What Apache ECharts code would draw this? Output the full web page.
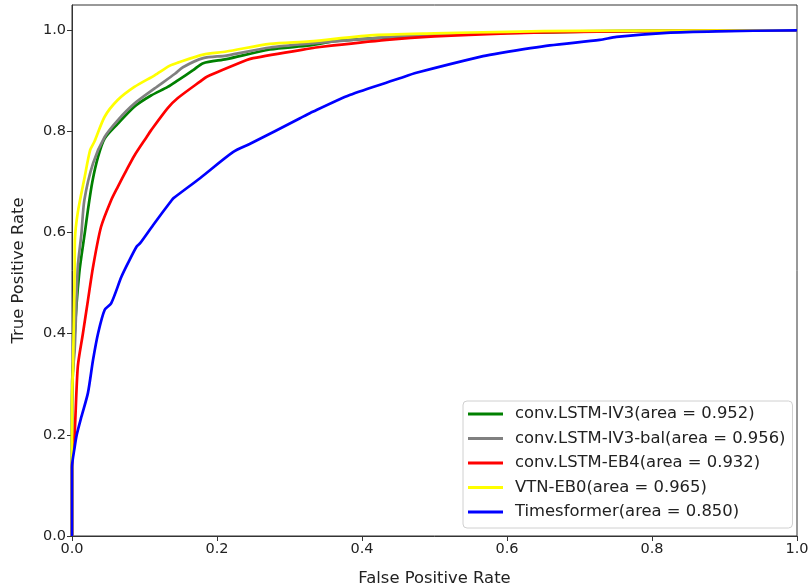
<!DOCTYPE html>
<html>
<head>
<meta charset="utf-8">
<script src="https://cdn.jsdelivr.net/npm/echarts@6/dist/echarts.min.js"></script>
<style>html,body{margin:0;padding:0;background:#fff}#c{width:810px;height:587px}</style>
</head>
<body>
<div id="c"></div>
<script>
var seriesNames = ['conv.LSTM-IV3(area = 0.952)','conv.LSTM-IV3-bal(area = 0.956)','conv.LSTM-EB4(area = 0.932)','VTN-EB0(area = 0.965)','Timesformer(area = 0.850)'];
var seriesColors = ['#008000','#808080','#ff0000','#ffff00','#0000ff'];
var xTicks = [0,0.2,0.4,0.6,0.8,1.0];
var yTicks = [0,0.2,0.4,0.6,0.8,1.0];

var rocGreen = [[0,0],[0,0.25],[0.0037,0.40],[0.01,0.52],[0.0175,0.598],[0.022,0.645],[0.028,0.70],[0.036,0.75],[0.045,0.786],[0.063,0.815],[0.086,0.849],[0.109,0.871],[0.132,0.888],[0.146,0.901],[0.167,0.921],[0.181,0.935],[0.213,0.943],[0.273,0.962],[0.328,0.970],[0.365,0.979],[0.45,0.987],[0.55,0.993],[0.65,0.996],[0.8,0.999],[1,1]];
var rocGray = [[0,0],[0,0.3],[0.0037,0.368],[0.008,0.532],[0.013,0.598],[0.017,0.664],[0.029,0.737],[0.045,0.789],[0.063,0.822],[0.086,0.855],[0.114,0.885],[0.142,0.914],[0.153,0.927],[0.181,0.945],[0.213,0.950],[0.273,0.966],[0.33,0.974],[0.45,0.988],[0.55,0.993],[0.65,0.997],[0.8,0.999],[1,1]];
var rocRed = [[0,0],[0,0.136],[0.0037,0.203],[0.008,0.335],[0.015,0.40],[0.022,0.466],[0.029,0.532],[0.04,0.611],[0.054,0.664],[0.063,0.69],[0.075,0.723],[0.086,0.752],[0.103,0.789],[0.109,0.802],[0.132,0.846],[0.146,0.866],[0.177,0.899],[0.186,0.908],[0.241,0.941],[0.25,0.945],[0.328,0.964],[0.342,0.967],[0.434,0.981],[0.5,0.988],[0.6,0.994],[0.7,0.997],[0.85,0.999],[1,1]];
var rocYellow = [[0,0],[0,0.27],[0.0014,0.335],[0.0037,0.532],[0.004,0.585],[0.008,0.64],[0.0175,0.71],[0.025,0.763],[0.031,0.78],[0.045,0.829],[0.063,0.862],[0.086,0.888],[0.114,0.911],[0.135,0.930],[0.146,0.936],[0.181,0.952],[0.213,0.958],[0.273,0.973],[0.328,0.978],[0.411,0.99],[0.5,0.994],[0.6,0.997],[0.7,0.999],[1,1]];
var rocBlue = [[0,0],[0,0.136],[0.0037,0.176],[0.0065,0.20],[0.013,0.236],[0.022,0.283],[0.029,0.348],[0.036,0.401],[0.045,0.447],[0.054,0.46],[0.068,0.512],[0.077,0.539],[0.089,0.572],[0.094,0.579],[0.112,0.615],[0.1375,0.664],[0.14,0.668],[0.177,0.708],[0.222,0.759],[0.245,0.775],[0.3145,0.826],[0.328,0.836],[0.383,0.872],[0.452,0.905],[0.475,0.916],[0.567,0.949],[0.59,0.955],[0.659,0.970],[0.728,0.981],[0.751,0.987],[0.82,0.995],[0.889,0.998],[1,1]];

var allData = [rocGreen, rocGray, rocRed, rocYellow, rocBlue];
var font = 'DejaVu Sans';
var chart = echarts.init(document.getElementById('c'), null, {renderer:'canvas'});
chart.setOption({
  animation: false,
  backgroundColor: '#fff',
  grid: {left: 72, right: 13, top: 5, bottom: 51, containLabel: false, outerBoundsMode: 'none', show: true, borderColor: '#333', borderWidth: 1, backgroundColor: 'transparent'},
  xAxis: {
    type: 'value', min: 0, max: 1, interval: 0.2,
    name: 'False Positive Rate', nameLocation: 'middle', nameGap: 35,
    nameTextStyle: {fontFamily: font, fontSize: 16.4, color: '#222'},
    axisLine: {show: true, lineStyle: {color: '#333', width: 1}},
    axisTick: {show: true, length: 5, lineStyle: {color: '#333'}},
    axisLabel: {fontFamily: font, fontSize: 14.5, color: '#222', margin: 6, formatter: function(v){return v.toFixed(1);}},
    splitLine: {show: false}
  },
  yAxis: {
    type: 'value', min: 0, max: 1.05,
    name: 'True Positive Rate', nameLocation: 'middle', nameGap: 45,
    nameTextStyle: {fontFamily: font, fontSize: 16.4, color: '#222'},
    axisLine: {show: true, lineStyle: {color: '#333', width: 1}},
    axisTick: {show: true, length: 5, lineStyle: {color: '#333'}, customValues: yTicks},
    axisLabel: {fontFamily: font, fontSize: 14.5, color: '#222', margin: 6, customValues: yTicks, formatter: function(v){return v.toFixed(1);}},
    splitLine: {show: false}
  },
  legend: {
    orient: 'vertical', left: 463, top: 401,
    padding: [4, 7, 7, 5],
    itemWidth: 35, itemHeight: 3, itemGap: 6.5,
    icon: 'rect',
    borderColor: '#d0d0d0', borderWidth: 1, borderRadius: 4,
    backgroundColor: 'rgba(255,255,255,0.8)',
    textStyle: {fontFamily: font, fontSize: 16.4, color: '#222', lineHeight: 18, padding: [0,0,0,7]},
    data: seriesNames
  },
  series: seriesNames.map(function(n, i){
    return {
      name: n, type: 'line', data: allData[i], showSymbol: false, symbol: 'none',
      smooth: 0.25,
      lineStyle: {color: seriesColors[i], width: 2.7}, itemStyle: {color: seriesColors[i]},
      z: 2 + i
    };
  })
});
</script>
</body>
</html>
